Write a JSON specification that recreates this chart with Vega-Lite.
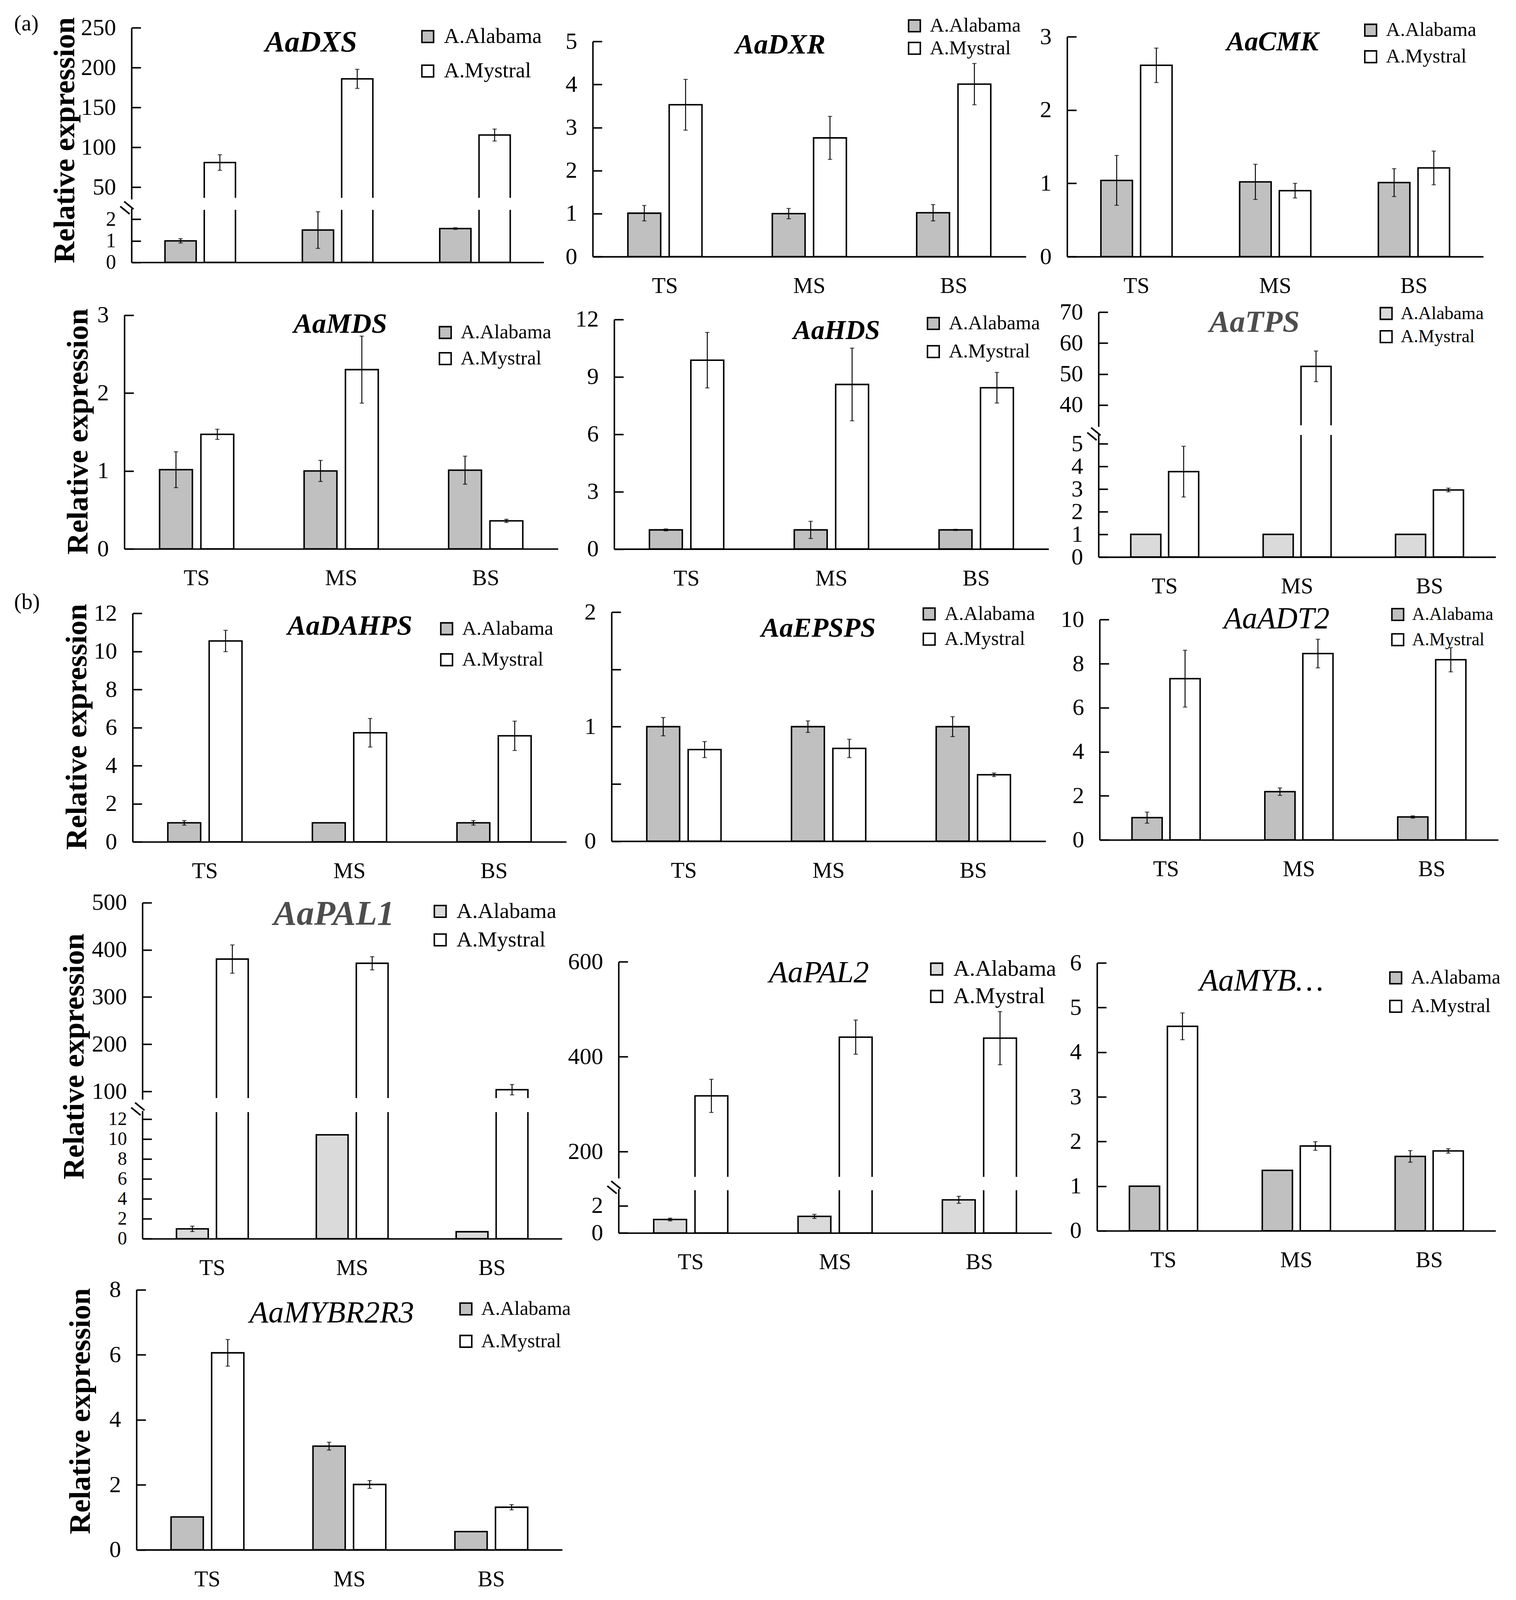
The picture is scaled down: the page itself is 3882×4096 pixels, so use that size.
{
"$schema": "https://vega.github.io/schema/vega-lite/v6.json",
"padding": 0,
"background": "white",
"datasets": {"expr": [
{"gene":"AaDXS","stage":"TS","cultivar":"A.Alabama","value":1.0,"err":0.1},
{"gene":"AaDXS","stage":"MS","cultivar":"A.Alabama","value":1.5,"err":0.85},
{"gene":"AaDXS","stage":"BS","cultivar":"A.Alabama","value":1.57,"err":0.04},
{"gene":"AaDXS","stage":"TS","cultivar":"A.Mystral","value":81,"err":9.8},
{"gene":"AaDXS","stage":"MS","cultivar":"A.Mystral","value":186,"err":12},
{"gene":"AaDXS","stage":"BS","cultivar":"A.Mystral","value":115.5,"err":7.5},
{"gene":"AaDXR","stage":"TS","cultivar":"A.Alabama","value":1.01,"err":0.18},
{"gene":"AaDXR","stage":"MS","cultivar":"A.Alabama","value":1.0,"err":0.12},
{"gene":"AaDXR","stage":"BS","cultivar":"A.Alabama","value":1.02,"err":0.19},
{"gene":"AaDXR","stage":"TS","cultivar":"A.Mystral","value":3.53,"err":0.59},
{"gene":"AaDXR","stage":"MS","cultivar":"A.Mystral","value":2.76,"err":0.5},
{"gene":"AaDXR","stage":"BS","cultivar":"A.Mystral","value":4.01,"err":0.48},
{"gene":"AaCMK","stage":"TS","cultivar":"A.Alabama","value":1.04,"err":0.34},
{"gene":"AaCMK","stage":"MS","cultivar":"A.Alabama","value":1.02,"err":0.24},
{"gene":"AaCMK","stage":"BS","cultivar":"A.Alabama","value":1.01,"err":0.19},
{"gene":"AaCMK","stage":"TS","cultivar":"A.Mystral","value":2.61,"err":0.235},
{"gene":"AaCMK","stage":"MS","cultivar":"A.Mystral","value":0.9,"err":0.1},
{"gene":"AaCMK","stage":"BS","cultivar":"A.Mystral","value":1.21,"err":0.23},
{"gene":"AaMDS","stage":"TS","cultivar":"A.Alabama","value":1.016,"err":0.23},
{"gene":"AaMDS","stage":"MS","cultivar":"A.Alabama","value":1.0,"err":0.135},
{"gene":"AaMDS","stage":"BS","cultivar":"A.Alabama","value":1.01,"err":0.18},
{"gene":"AaMDS","stage":"TS","cultivar":"A.Mystral","value":1.47,"err":0.065},
{"gene":"AaMDS","stage":"MS","cultivar":"A.Mystral","value":2.3,"err":0.43},
{"gene":"AaMDS","stage":"BS","cultivar":"A.Mystral","value":0.36,"err":0.02},
{"gene":"AaHDS","stage":"TS","cultivar":"A.Alabama","value":1.0,"err":0.05},
{"gene":"AaHDS","stage":"MS","cultivar":"A.Alabama","value":1.0,"err":0.45},
{"gene":"AaHDS","stage":"BS","cultivar":"A.Alabama","value":1.0,"err":0.03},
{"gene":"AaHDS","stage":"TS","cultivar":"A.Mystral","value":9.87,"err":1.45},
{"gene":"AaHDS","stage":"MS","cultivar":"A.Mystral","value":8.6,"err":1.9},
{"gene":"AaHDS","stage":"BS","cultivar":"A.Mystral","value":8.43,"err":0.8},
{"gene":"AaTPS","stage":"TS","cultivar":"A.Alabama","value":1.0,"err":0},
{"gene":"AaTPS","stage":"MS","cultivar":"A.Alabama","value":1.0,"err":0},
{"gene":"AaTPS","stage":"BS","cultivar":"A.Alabama","value":1.0,"err":0},
{"gene":"AaTPS","stage":"TS","cultivar":"A.Mystral","value":3.77,"err":1.12},
{"gene":"AaTPS","stage":"MS","cultivar":"A.Mystral","value":52.5,"err":4.95},
{"gene":"AaTPS","stage":"BS","cultivar":"A.Mystral","value":2.96,"err":0.08},
{"gene":"AaDAHPS","stage":"TS","cultivar":"A.Alabama","value":1.0,"err":0.12},
{"gene":"AaDAHPS","stage":"MS","cultivar":"A.Alabama","value":1.0,"err":0},
{"gene":"AaDAHPS","stage":"BS","cultivar":"A.Alabama","value":1.0,"err":0.12},
{"gene":"AaDAHPS","stage":"TS","cultivar":"A.Mystral","value":10.55,"err":0.56},
{"gene":"AaDAHPS","stage":"MS","cultivar":"A.Mystral","value":5.73,"err":0.75},
{"gene":"AaDAHPS","stage":"BS","cultivar":"A.Mystral","value":5.57,"err":0.77},
{"gene":"AaEPSPS","stage":"TS","cultivar":"A.Alabama","value":1.0,"err":0.08},
{"gene":"AaEPSPS","stage":"MS","cultivar":"A.Alabama","value":1.0,"err":0.05},
{"gene":"AaEPSPS","stage":"BS","cultivar":"A.Alabama","value":1.0,"err":0.087},
{"gene":"AaEPSPS","stage":"TS","cultivar":"A.Mystral","value":0.8,"err":0.07},
{"gene":"AaEPSPS","stage":"MS","cultivar":"A.Mystral","value":0.81,"err":0.08},
{"gene":"AaEPSPS","stage":"BS","cultivar":"A.Mystral","value":0.58,"err":0.015},
{"gene":"AaADT2","stage":"TS","cultivar":"A.Alabama","value":1.01,"err":0.25},
{"gene":"AaADT2","stage":"MS","cultivar":"A.Alabama","value":2.19,"err":0.17},
{"gene":"AaADT2","stage":"BS","cultivar":"A.Alabama","value":1.04,"err":0.05},
{"gene":"AaADT2","stage":"TS","cultivar":"A.Mystral","value":7.32,"err":1.29},
{"gene":"AaADT2","stage":"MS","cultivar":"A.Mystral","value":8.46,"err":0.65},
{"gene":"AaADT2","stage":"BS","cultivar":"A.Mystral","value":8.18,"err":0.55},
{"gene":"AaPAL1","stage":"TS","cultivar":"A.Alabama","value":0.99,"err":0.27},
{"gene":"AaPAL1","stage":"MS","cultivar":"A.Alabama","value":10.43,"err":0},
{"gene":"AaPAL1","stage":"BS","cultivar":"A.Alabama","value":0.7,"err":0},
{"gene":"AaPAL1","stage":"TS","cultivar":"A.Mystral","value":380.5,"err":30},
{"gene":"AaPAL1","stage":"MS","cultivar":"A.Mystral","value":371.6,"err":14},
{"gene":"AaPAL1","stage":"BS","cultivar":"A.Mystral","value":103.7,"err":11},
{"gene":"AaPAL2","stage":"TS","cultivar":"A.Alabama","value":0.99,"err":0.1},
{"gene":"AaPAL2","stage":"MS","cultivar":"A.Alabama","value":1.22,"err":0.15},
{"gene":"AaPAL2","stage":"BS","cultivar":"A.Alabama","value":2.44,"err":0.26},
{"gene":"AaPAL2","stage":"TS","cultivar":"A.Mystral","value":317.6,"err":35},
{"gene":"AaPAL2","stage":"MS","cultivar":"A.Mystral","value":441.4,"err":36},
{"gene":"AaPAL2","stage":"BS","cultivar":"A.Mystral","value":439.2,"err":56},
{"gene":"AaMYB","stage":"TS","cultivar":"A.Alabama","value":1.0,"err":0},
{"gene":"AaMYB","stage":"MS","cultivar":"A.Alabama","value":1.354,"err":0},
{"gene":"AaMYB","stage":"BS","cultivar":"A.Alabama","value":1.667,"err":0.13},
{"gene":"AaMYB","stage":"TS","cultivar":"A.Mystral","value":4.58,"err":0.3},
{"gene":"AaMYB","stage":"MS","cultivar":"A.Mystral","value":1.9,"err":0.095},
{"gene":"AaMYB","stage":"BS","cultivar":"A.Mystral","value":1.79,"err":0.05},
{"gene":"AaMYBR2R3","stage":"TS","cultivar":"A.Alabama","value":1.01,"err":0},
{"gene":"AaMYBR2R3","stage":"MS","cultivar":"A.Alabama","value":3.19,"err":0.12},
{"gene":"AaMYBR2R3","stage":"BS","cultivar":"A.Alabama","value":0.56,"err":0},
{"gene":"AaMYBR2R3","stage":"TS","cultivar":"A.Mystral","value":6.06,"err":0.41},
{"gene":"AaMYBR2R3","stage":"MS","cultivar":"A.Mystral","value":2.01,"err":0.12},
{"gene":"AaMYBR2R3","stage":"BS","cultivar":"A.Mystral","value":1.31,"err":0.08}
]},
"columns": 3,
"spacing": 0,
"bounds": "flush",
"align": "each",
"resolve": {"scale": {"fill": "independent", "xOffset": "independent"}, "legend": {"fill": "independent"}},
"concat": [
{
 "width": 1514, "height": 671.7,
 "data": {"name": "expr"},
 "transform": [{"filter": "datum.gene == 'AaDXS'"}],
 "resolve": {"scale": {"y": "independent"}, "axis": {"y": "independent"}},
 "layer": [
  {"layer": [
   {"mark": {"type": "bar", "stroke": "black", "strokeWidth": 3.8},
    "encoding": {
     "x": {"field": "stage", "type": "nominal", "scale": {"domain": ["TS","MS","BS"], "range": [336.8, 1392.2], "paddingInner": 0.487, "paddingOuter": 0.2435}, "axis": {"title": null, "labels": false}},
     "xOffset": {"field": "cultivar", "type": "nominal", "scale": {"domain": ["A.Alabama","A.Mystral"], "paddingInner": 0.206, "paddingOuter": 0}},
     "y": {"field": "value", "type": "quantitative", "title": ["–","–"], "scale": {"domain": [0, 2.5], "range": [671.7, 533.8], "clamp": true, "nice": false, "zero": false},
       "axis": {"orient": "left", "offset": -336.8, "values": [0,1,2], "labelFontSize": 52, "title": ["–","–"], "titleX": -4.7, "titleY": 521.9, "titleAngle": 39, "titleAlign": "center", "titleBaseline": "middle", "titleFontSize": 60, "titleFontWeight": "bold", "titleLineHeight": 16}},
     "fill": {"field": "cultivar", "type": "nominal", "scale": {"domain": ["A.Alabama","A.Mystral"], "range": ["#c0c0c0","#ffffff"]}, "legend": {"title": null, "direction": "vertical", "legendX": 1068, "legendY": 66.3, "labelFontSize": 54.7, "rowPadding": 32.3}}
    }},
   {"transform": [{"filter": "datum.err > 0 && datum.value < 20"}],
    "mark": {"type": "errorbar", "ticks": true, "size": 11, "thickness": 2.4, "color": "black"},
    "encoding": {"x": {"field": "stage", "type": "nominal"}, "xOffset": {"field": "cultivar", "type": "nominal"}, "y": {"field": "value", "type": "quantitative", "title": ["–","–"]}, "yError": {"field": "err"}}}
  ]},
  {"layer": [
   {"transform": [{"filter": "datum.value > 20"}],
    "mark": {"type": "bar", "stroke": "black", "strokeWidth": 3.8},
    "encoding": {
     "x": {"field": "stage", "type": "nominal"},
     "xOffset": {"field": "cultivar", "type": "nominal"},
     "y": {"field": "value", "type": "quantitative", "title": "Relative expression", "scale": {"domain": [35, 250], "range": [509.9, 71.4], "nice": false, "zero": false},
       "axis": {"orient": "left", "offset": -336.8, "values": [50,100,150,200,250], "title": "Relative expression", "titleX": -147.6, "titleY": 358.5, "titleAngle": -90, "titleAlign": "center", "titleBaseline": "alphabetic", "titleFontSize": 76.5, "titleFontWeight": "bold"}},
     "y2": {"datum": 35},
     "fill": {"field": "cultivar", "type": "nominal", "scale": {"domain": ["A.Alabama","A.Mystral"], "range": ["#c0c0c0","#ffffff"]}, "legend": {"title": null, "direction": "vertical", "legendX": 1068, "legendY": 66.3, "labelFontSize": 54.7, "rowPadding": 32.3}}
    }},
   {"transform": [{"filter": "datum.value > 20"}],
    "mark": {"type": "errorbar", "ticks": true, "size": 11, "thickness": 2.4, "color": "black"},
    "encoding": {"x": {"field": "stage", "type": "nominal"}, "xOffset": {"field": "cultivar", "type": "nominal"}, "y": {"field": "value", "type": "quantitative", "title": "Relative expression"}, "yError": {"field": "err"}}},
   {"transform": [{"filter": "datum.value > 20"}],
    "mark": {"type": "bar", "fill": "white", "stroke": "white", "strokeWidth": 7},
    "encoding": {"x": {"field": "stage", "type": "nominal"}, "xOffset": {"field": "cultivar", "type": "nominal"}, "y": {"datum": 35}, "y2": {"datum": 23.28}}},
   {"data": {"values": [{"gene": "AaDXS", "t": "AaDXS"}]},
    "mark": {"type": "text", "fontSize": 75.7, "fontStyle": "italic", "fontWeight": "bold", "align": "center", "baseline": "alphabetic", "dx": -68, "color": "black"},
    "encoding": {"x": {"datum": "MS"}, "y": {"datum": 220.1}, "text": {"field": "t"}}},
   {"data": {"values": [{"gene": "AaDXS", "t": "(a)"}]},
    "mark": {"type": "text", "fontSize": 56.8, "align": "left", "baseline": "alphabetic", "dx": -476.7, "color": "black"},
    "encoding": {"x": {"datum": "TS"}, "y": {"datum": 247.0}, "text": {"field": "t"}}}
  ]}
 ]
},
{
 "width": 1211, "height": 657.0,
 "data": {"name": "expr"},
 "transform": [{"filter": "datum.gene == 'AaDXR'"}],
 "layer": [
  {"mark": {"type": "bar", "stroke": "black", "strokeWidth": 3.8},
   "encoding": {
    "x": {"field": "stage", "type": "nominal", "scale": {"domain": ["TS","MS","BS"], "range": [3.8, 1113.1], "paddingInner": 0.487, "paddingOuter": 0.2435}, "axis": {"title": null}},
    "xOffset": {"field": "cultivar", "type": "nominal", "scale": {"domain": ["A.Alabama","A.Mystral"], "paddingInner": 0.206, "paddingOuter": 0}},
    "y": {"field": "value", "type": "quantitative", "scale": {"domain": [0, 5], "range": [657.0, 106.3], "nice": false, "zero": false}, "axis": {"orient": "left", "offset": -3.8, "values": [0,1,2,3,4,5], "title": null}},
    "fill": {"field": "cultivar", "type": "nominal", "scale": {"domain": ["A.Alabama","A.Mystral"], "range": ["#c0c0c0","#ffffff"]}, "legend": {"title": null, "direction": "vertical", "legendX": 802.2, "legendY": 40.8, "labelFontSize": 50.8, "rowPadding": 5.5}}
   }},
  {"transform": [{"filter": "datum.err > 0"}],
   "mark": {"type": "errorbar", "ticks": true, "size": 11, "thickness": 2.4, "color": "black"},
   "encoding": {"x": {"field": "stage", "type": "nominal"}, "xOffset": {"field": "cultivar", "type": "nominal"}, "y": {"field": "value", "type": "quantitative"}, "yError": {"field": "err"}}},
  {"data": {"values": [{"gene": "AaDXR", "t": "AaDXR"}]},
   "mark": {"type": "text", "fontSize": 71.6, "fontStyle": "italic", "fontWeight": "bold", "align": "center", "baseline": "alphabetic", "dx": -74, "color": "black"},
   "encoding": {"x": {"datum": "MS"}, "y": {"datum": 4.717}, "text": {"field": "t"}}}
 ]
},
{
 "width": 1135, "height": 657.0,
 "data": {"name": "expr"},
 "transform": [{"filter": "datum.gene == 'AaCMK'"}],
 "layer": [
  {"mark": {"type": "bar", "stroke": "black", "strokeWidth": 3.8},
   "encoding": {
    "x": {"field": "stage", "type": "nominal", "scale": {"domain": ["TS","MS","BS"], "range": [7.6, 1073.3], "paddingInner": 0.487, "paddingOuter": 0.2435}, "axis": {"title": null}},
    "xOffset": {"field": "cultivar", "type": "nominal", "scale": {"domain": ["A.Alabama","A.Mystral"], "paddingInner": 0.206, "paddingOuter": 0}},
    "y": {"field": "value", "type": "quantitative", "scale": {"domain": [0, 3], "range": [657.0, 94.0], "nice": false, "zero": false}, "axis": {"orient": "left", "offset": -7.6, "values": [0,1,2,3], "title": null}},
    "fill": {"field": "cultivar", "type": "nominal", "scale": {"domain": ["A.Alabama","A.Mystral"], "range": ["#c0c0c0","#ffffff"]}, "legend": {"title": null, "direction": "vertical", "legendX": 759.6, "legendY": 52, "labelFontSize": 50.5, "rowPadding": 17}}
   }},
  {"transform": [{"filter": "datum.err > 0"}],
   "mark": {"type": "errorbar", "ticks": true, "size": 11, "thickness": 2.4, "color": "black"},
   "encoding": {"x": {"field": "stage", "type": "nominal"}, "xOffset": {"field": "cultivar", "type": "nominal"}, "y": {"field": "value", "type": "quantitative"}, "yError": {"field": "err"}}},
  {"data": {"values": [{"gene": "AaCMK", "t": "AaCMK"}]},
   "mark": {"type": "text", "fontSize": 69.5, "fontStyle": "italic", "fontWeight": "bold", "align": "center", "baseline": "alphabetic", "dx": -7, "color": "black"},
   "encoding": {"x": {"datum": "MS"}, "y": {"datum": 2.815}, "text": {"field": "t"}}}
 ]
},
{
 "width": 1514, "height": 733.2,
 "data": {"name": "expr"},
 "transform": [{"filter": "datum.gene == 'AaMDS'"}],
 "layer": [
  {"mark": {"type": "bar", "stroke": "black", "strokeWidth": 3.8},
   "encoding": {
    "x": {"field": "stage", "type": "nominal", "scale": {"domain": ["TS","MS","BS"], "range": [318.5, 1428.8], "paddingInner": 0.487, "paddingOuter": 0.2435}, "axis": {"title": null}},
    "xOffset": {"field": "cultivar", "type": "nominal", "scale": {"domain": ["A.Alabama","A.Mystral"], "paddingInner": 0.206, "paddingOuter": 0}},
    "y": {"field": "value", "type": "quantitative", "title": "Relative expression", "scale": {"domain": [0, 3], "range": [733.2, 134.6], "nice": false, "zero": false}, "axis": {"orient": "left", "offset": -318.5, "values": [0,1,2,3], "title": "Relative expression", "titleX": -95.3, "titleY": 432.3, "titleAngle": -90, "titleAlign": "center", "titleBaseline": "alphabetic", "titleFontSize": 76.5, "titleFontWeight": "bold"}},
    "fill": {"field": "cultivar", "type": "nominal", "scale": {"domain": ["A.Alabama","A.Mystral"], "range": ["#c0c0c0","#ffffff"]}, "legend": {"title": null, "direction": "vertical", "legendX": 1114.9, "legendY": 153.9, "labelFontSize": 50.7, "rowPadding": 14.8}}
   }},
  {"transform": [{"filter": "datum.err > 0"}],
   "mark": {"type": "errorbar", "ticks": true, "size": 11, "thickness": 2.4, "color": "black"},
   "encoding": {"x": {"field": "stage", "type": "nominal"}, "xOffset": {"field": "cultivar", "type": "nominal"}, "y": {"field": "value", "type": "quantitative", "title": "Relative expression"}, "yError": {"field": "err"}}},
  {"data": {"values": [{"gene": "AaMDS", "t": "AaMDS"}]},
   "mark": {"type": "text", "fontSize": 71.9, "fontStyle": "italic", "fontWeight": "bold", "align": "center", "baseline": "alphabetic", "dx": -2.4, "color": "black"},
   "encoding": {"x": {"datum": "MS"}, "y": {"datum": 2.772}, "text": {"field": "t"}}}
 ]
},
{
 "width": 1211, "height": 733.5,
 "data": {"name": "expr"},
 "transform": [{"filter": "datum.gene == 'AaHDS'"}],
 "layer": [
  {"mark": {"type": "bar", "stroke": "black", "strokeWidth": 3.8},
   "encoding": {
    "x": {"field": "stage", "type": "nominal", "scale": {"domain": ["TS","MS","BS"], "range": [58.7, 1171.2], "paddingInner": 0.487, "paddingOuter": 0.2435}, "axis": {"title": null}},
    "xOffset": {"field": "cultivar", "type": "nominal", "scale": {"domain": ["A.Alabama","A.Mystral"], "paddingInner": 0.206, "paddingOuter": 0}},
    "y": {"field": "value", "type": "quantitative", "scale": {"domain": [0, 12], "range": [733.5, 145.7], "nice": false, "zero": false}, "axis": {"orient": "left", "offset": -58.7, "values": [0,3,6,9,12], "title": null}},
    "fill": {"field": "cultivar", "type": "nominal", "scale": {"domain": ["A.Alabama","A.Mystral"], "range": ["#c0c0c0","#ffffff"]}, "legend": {"title": null, "direction": "vertical", "legendX": 850.5, "legendY": 130.6, "labelFontSize": 51, "rowPadding": 20}}
   }},
  {"transform": [{"filter": "datum.err > 0"}],
   "mark": {"type": "errorbar", "ticks": true, "size": 11, "thickness": 2.4, "color": "black"},
   "encoding": {"x": {"field": "stage", "type": "nominal"}, "xOffset": {"field": "cultivar", "type": "nominal"}, "y": {"field": "value", "type": "quantitative"}, "yError": {"field": "err"}}},
  {"data": {"values": [{"gene": "AaHDS", "t": "AaHDS"}]},
   "mark": {"type": "text", "fontSize": 69, "fontStyle": "italic", "fontWeight": "bold", "align": "center", "baseline": "alphabetic", "dx": 13.2, "color": "black"},
   "encoding": {"x": {"datum": "MS"}, "y": {"datum": 10.98}, "text": {"field": "t"}}}
 ]
},
{
 "width": 1135, "height": 754.0,
 "data": {"name": "expr"},
 "transform": [{"filter": "datum.gene == 'AaTPS'"}],
 "resolve": {"scale": {"y": "independent"}, "axis": {"y": "independent"}},
 "layer": [
  {"layer": [
   {"mark": {"type": "bar", "stroke": "black", "strokeWidth": 3.8},
    "encoding": {
     "x": {"field": "stage", "type": "nominal", "scale": {"domain": ["TS","MS","BS"], "range": [88.0, 1105.0], "paddingInner": 0.487, "paddingOuter": 0.2435}, "axis": {"title": null}},
     "xOffset": {"field": "cultivar", "type": "nominal", "scale": {"domain": ["A.Alabama","A.Mystral"], "paddingInner": 0.206, "paddingOuter": 0}},
     "y": {"field": "value", "type": "quantitative", "title": ["–","–"], "scale": {"domain": [0, 5.45], "range": [754.0, 437.9], "clamp": true, "nice": false, "zero": false},
       "axis": {"orient": "left", "offset": -88.0, "values": [0,1,2,3,4,5], "title": ["–","–"], "titleX": -4.7, "titleY": 429, "titleAngle": 39, "titleAlign": "center", "titleBaseline": "middle", "titleFontSize": 60, "titleFontWeight": "bold", "titleLineHeight": 16}},
     "fill": {"field": "cultivar", "type": "nominal", "scale": {"domain": ["A.Alabama","A.Mystral"], "range": ["#dadada","#ffffff"]}, "legend": {"title": null, "direction": "vertical", "legendX": 801.3, "legendY": 107.3, "labelFontSize": 46.4, "rowPadding": 12.3}}
    }},
   {"transform": [{"filter": "datum.err > 0 && datum.value < 20"}],
    "mark": {"type": "errorbar", "ticks": true, "size": 11, "thickness": 2.4, "color": "black"},
    "encoding": {"x": {"field": "stage", "type": "nominal"}, "xOffset": {"field": "cultivar", "type": "nominal"}, "y": {"field": "value", "type": "quantitative", "title": ["–","–"]}, "yError": {"field": "err"}}}
  ]},
  {"layer": [
   {"transform": [{"filter": "datum.value > 20"}],
    "mark": {"type": "bar", "stroke": "black", "strokeWidth": 3.8},
    "encoding": {
     "x": {"field": "stage", "type": "nominal"},
     "xOffset": {"field": "cultivar", "type": "nominal"},
     "y": {"field": "value", "type": "quantitative", "scale": {"domain": [33, 70], "range": [420.2, 127.2], "nice": false, "zero": false},
       "axis": {"orient": "left", "offset": -88.0, "values": [40,50,60,70], "title": null}},
     "y2": {"datum": 33},
     "fill": {"field": "cultivar", "type": "nominal", "scale": {"domain": ["A.Alabama","A.Mystral"], "range": ["#dadada","#ffffff"]}, "legend": {"title": null, "direction": "vertical", "legendX": 801.3, "legendY": 107.3, "labelFontSize": 46.4, "rowPadding": 12.3}}
    }},
   {"transform": [{"filter": "datum.value > 20"}],
    "mark": {"type": "errorbar", "ticks": true, "size": 11, "thickness": 2.4, "color": "black"},
    "encoding": {"x": {"field": "stage", "type": "nominal"}, "xOffset": {"field": "cultivar", "type": "nominal"}, "y": {"field": "value", "type": "quantitative"}, "yError": {"field": "err"}}},
   {"transform": [{"filter": "datum.value > 20"}],
    "mark": {"type": "bar", "fill": "white", "stroke": "white", "strokeWidth": 7},
    "encoding": {"x": {"field": "stage", "type": "nominal"}, "xOffset": {"field": "cultivar", "type": "nominal"}, "y": {"datum": 33}, "y2": {"datum": 30.765}}},
   {"data": {"values": [{"gene": "AaTPS", "t": "AaTPS"}]},
    "mark": {"type": "text", "fontSize": 78.5, "fontStyle": "italic", "fontWeight": "bold", "align": "center", "baseline": "alphabetic", "dx": -109.3, "color": "#4d4d4d"},
    "encoding": {"x": {"datum": "MS"}, "y": {"datum": 63.75}, "text": {"field": "t"}}}
  ]}
 ]
},
{
 "width": 1514, "height": 729.2,
 "data": {"name": "expr"},
 "transform": [{"filter": "datum.gene == 'AaDAHPS'"}],
 "layer": [
  {"mark": {"type": "bar", "stroke": "black", "strokeWidth": 3.8},
   "encoding": {
    "x": {"field": "stage", "type": "nominal", "scale": {"domain": ["TS","MS","BS"], "range": [339.6, 1450.2], "paddingInner": 0.487, "paddingOuter": 0.2435}, "axis": {"title": null}},
    "xOffset": {"field": "cultivar", "type": "nominal", "scale": {"domain": ["A.Alabama","A.Mystral"], "paddingInner": 0.206, "paddingOuter": 0}},
    "y": {"field": "value", "type": "quantitative", "title": "Relative expression", "scale": {"domain": [0, 12], "range": [729.2, 144.2], "nice": false, "zero": false}, "axis": {"orient": "left", "offset": -339.6, "values": [0,2,4,6,8,10,12], "title": "Relative expression", "titleX": -118.7, "titleY": 434.2, "titleAngle": -90, "titleAlign": "center", "titleBaseline": "alphabetic", "titleFontSize": 76.5, "titleFontWeight": "bold"}},
    "fill": {"field": "cultivar", "type": "nominal", "scale": {"domain": ["A.Alabama","A.Mystral"], "range": ["#c0c0c0","#ffffff"]}, "legend": {"title": null, "direction": "vertical", "legendX": 1118.2, "legendY": 158, "labelFontSize": 51, "rowPadding": 27.5}}
   }},
  {"transform": [{"filter": "datum.err > 0"}],
   "mark": {"type": "errorbar", "ticks": true, "size": 11, "thickness": 2.4, "color": "black"},
   "encoding": {"x": {"field": "stage", "type": "nominal"}, "xOffset": {"field": "cultivar", "type": "nominal"}, "y": {"field": "value", "type": "quantitative", "title": "Relative expression"}, "yError": {"field": "err"}}},
  {"data": {"values": [{"gene": "AaDAHPS", "t": "AaDAHPS"}]},
   "mark": {"type": "text", "fontSize": 71, "fontStyle": "italic", "fontWeight": "bold", "align": "center", "baseline": "alphabetic", "dx": 1, "color": "black"},
   "encoding": {"x": {"datum": "MS"}, "y": {"datum": 10.88}, "text": {"field": "t"}}},
  {"data": {"values": [{"gene": "AaDAHPS", "t": "(b)"}]},
   "mark": {"type": "text", "fontSize": 56.8, "align": "left", "baseline": "alphabetic", "dx": -488.7, "color": "black"},
   "encoding": {"x": {"datum": "TS"}, "y": {"datum": 12.22}, "text": {"field": "t"}}}
 ]
},
{
 "width": 1211, "height": 727.5,
 "data": {"name": "expr"},
 "transform": [{"filter": "datum.gene == 'AaEPSPS'"}],
 "layer": [
  {"mark": {"type": "bar", "stroke": "black", "strokeWidth": 3.8},
   "encoding": {
    "x": {"field": "stage", "type": "nominal", "scale": {"domain": ["TS","MS","BS"], "range": [52.0, 1163.6], "paddingInner": 0.487, "paddingOuter": 0.2435}, "axis": {"title": null}},
    "xOffset": {"field": "cultivar", "type": "nominal", "scale": {"domain": ["A.Alabama","A.Mystral"], "paddingInner": 0.206, "paddingOuter": 0}},
    "y": {"field": "value", "type": "quantitative", "scale": {"domain": [0, 2], "range": [727.5, 141.0], "nice": false, "zero": false}, "axis": {"orient": "left", "offset": -52.0, "values": [0,0.5,1,1.5,2], "labelExpr": "datum.value % 1 == 0 ? datum.label : ''", "title": null}},
    "fill": {"field": "cultivar", "type": "nominal", "scale": {"domain": ["A.Alabama","A.Mystral"], "range": ["#c0c0c0","#ffffff"]}, "legend": {"title": null, "direction": "vertical", "legendX": 840, "legendY": 120.4, "labelFontSize": 50.6, "rowPadding": 13.7}}
   }},
  {"transform": [{"filter": "datum.err > 0"}],
   "mark": {"type": "errorbar", "ticks": true, "size": 11, "thickness": 2.4, "color": "black"},
   "encoding": {"x": {"field": "stage", "type": "nominal"}, "xOffset": {"field": "cultivar", "type": "nominal"}, "y": {"field": "value", "type": "quantitative"}, "yError": {"field": "err"}}},
  {"data": {"values": [{"gene": "AaEPSPS", "t": "AaEPSPS"}]},
   "mark": {"type": "text", "fontSize": 70.4, "fontStyle": "italic", "fontWeight": "bold", "align": "center", "baseline": "alphabetic", "dx": -26, "color": "black"},
   "encoding": {"x": {"datum": "MS"}, "y": {"datum": 1.786}, "text": {"field": "t"}}}
 ]
},
{
 "width": 1135, "height": 724.1,
 "data": {"name": "expr"},
 "transform": [{"filter": "datum.gene == 'AaADT2'"}],
 "layer": [
  {"mark": {"type": "bar", "stroke": "black", "strokeWidth": 3.8},
   "encoding": {
    "x": {"field": "stage", "type": "nominal", "scale": {"domain": ["TS","MS","BS"], "range": [90.8, 1111.5], "paddingInner": 0.487, "paddingOuter": 0.2435}, "axis": {"title": null}},
    "xOffset": {"field": "cultivar", "type": "nominal", "scale": {"domain": ["A.Alabama","A.Mystral"], "paddingInner": 0.206, "paddingOuter": 0}},
    "y": {"field": "value", "type": "quantitative", "scale": {"domain": [0, 10], "range": [724.1, 160.3], "nice": false, "zero": false}, "axis": {"orient": "left", "offset": -90.8, "values": [0,2,4,6,8,10], "title": null}},
    "fill": {"field": "cultivar", "type": "nominal", "scale": {"domain": ["A.Alabama","A.Mystral"], "range": ["#c0c0c0","#ffffff"]}, "legend": {"title": null, "direction": "vertical", "legendX": 831.5, "legendY": 124.5, "labelFontSize": 45.4, "rowPadding": 17.4}}
   }},
  {"transform": [{"filter": "datum.err > 0"}],
   "mark": {"type": "errorbar", "ticks": true, "size": 11, "thickness": 2.4, "color": "black"},
   "encoding": {"x": {"field": "stage", "type": "nominal"}, "xOffset": {"field": "cultivar", "type": "nominal"}, "y": {"field": "value", "type": "quantitative"}, "yError": {"field": "err"}}},
  {"data": {"values": [{"gene": "AaADT2", "t": "AaADT2"}]},
   "mark": {"type": "text", "fontSize": 77.4, "fontStyle": "italic", "align": "center", "baseline": "alphabetic", "dx": -57.2, "color": "black"},
   "encoding": {"x": {"datum": "MS"}, "y": {"datum": 9.613}, "text": {"field": "t"}}}
 ]
},
{
 "width": 1514, "height": 1015.1,
 "data": {"name": "expr"},
 "transform": [{"filter": "datum.gene == 'AaPAL1'"}],
 "resolve": {"scale": {"y": "independent"}, "axis": {"y": "independent"}},
 "layer": [
  {"layer": [
   {"mark": {"type": "bar", "stroke": "black", "strokeWidth": 3.8},
    "encoding": {
     "x": {"field": "stage", "type": "nominal", "scale": {"domain": ["TS","MS","BS"], "range": [364.7, 1439.0], "paddingInner": 0.487, "paddingOuter": 0.2435}, "axis": {"title": null}},
     "xOffset": {"field": "cultivar", "type": "nominal", "scale": {"domain": ["A.Alabama","A.Mystral"], "paddingInner": 0.206, "paddingOuter": 0}},
     "y": {"field": "value", "type": "quantitative", "title": ["–","–"], "scale": {"domain": [0, 12.85], "range": [1015.1, 687.5], "clamp": true, "nice": false, "zero": false},
       "axis": {"orient": "left", "offset": -364.7, "values": [0,2,4,6,8,10,12], "labelFontSize": 48, "title": ["–","–"], "titleX": -4.7, "titleY": 673, "titleAngle": 39, "titleAlign": "center", "titleBaseline": "middle", "titleFontSize": 60, "titleFontWeight": "bold", "titleLineHeight": 16}},
     "fill": {"field": "cultivar", "type": "nominal", "scale": {"domain": ["A.Alabama","A.Mystral"], "range": ["#dadada","#ffffff"]}, "legend": {"title": null, "direction": "vertical", "legendX": 1099.3, "legendY": 149.2, "labelFontSize": 55.8, "rowPadding": 16.1}}
    }},
   {"transform": [{"filter": "datum.err > 0 && datum.value < 50"}],
    "mark": {"type": "errorbar", "ticks": true, "size": 11, "thickness": 2.4, "color": "black"},
    "encoding": {"x": {"field": "stage", "type": "nominal"}, "xOffset": {"field": "cultivar", "type": "nominal"}, "y": {"field": "value", "type": "quantitative", "title": ["–","–"]}, "yError": {"field": "err"}}}
  ]},
  {"layer": [
   {"transform": [{"filter": "datum.value > 50"}],
    "mark": {"type": "bar", "stroke": "black", "strokeWidth": 3.8},
    "encoding": {
     "x": {"field": "stage", "type": "nominal"},
     "xOffset": {"field": "cultivar", "type": "nominal"},
     "y": {"field": "value", "type": "quantitative", "title": "Relative expression", "scale": {"domain": [83, 500], "range": [658.6, 154.9], "nice": false, "zero": false},
       "axis": {"orient": "left", "offset": -364.7, "values": [100,200,300,400,500], "title": "Relative expression", "titleX": -150.9, "titleY": 547.9, "titleAngle": -90, "titleAlign": "center", "titleBaseline": "alphabetic", "titleFontSize": 76.5, "titleFontWeight": "bold"}},
     "y2": {"datum": 83},
     "fill": {"field": "cultivar", "type": "nominal", "scale": {"domain": ["A.Alabama","A.Mystral"], "range": ["#dadada","#ffffff"]}, "legend": {"title": null, "direction": "vertical", "legendX": 1099.3, "legendY": 149.2, "labelFontSize": 55.8, "rowPadding": 16.1}}
    }},
   {"transform": [{"filter": "datum.value > 50"}],
    "mark": {"type": "errorbar", "ticks": true, "size": 11, "thickness": 2.4, "color": "black"},
    "encoding": {"x": {"field": "stage", "type": "nominal"}, "xOffset": {"field": "cultivar", "type": "nominal"}, "y": {"field": "value", "type": "quantitative", "title": "Relative expression"}, "yError": {"field": "err"}}},
   {"transform": [{"filter": "datum.value > 50"}],
    "mark": {"type": "bar", "fill": "white", "stroke": "white", "strokeWidth": 7},
    "encoding": {"x": {"field": "stage", "type": "nominal"}, "xOffset": {"field": "cultivar", "type": "nominal"}, "y": {"datum": 83}, "y2": {"datum": 59.07}}},
   {"data": {"values": [{"gene": "AaPAL1", "t": "AaPAL1"}]},
    "mark": {"type": "text", "fontSize": 88.9, "fontStyle": "italic", "fontWeight": "bold", "align": "center", "baseline": "alphabetic", "dx": -46.7, "color": "#4d4d4d"},
    "encoding": {"x": {"datum": "MS"}, "y": {"datum": 453.9}, "text": {"field": "t"}}}
  ]}
 ]
},
{
 "width": 1211, "height": 1000.3,
 "data": {"name": "expr"},
 "transform": [{"filter": "datum.gene == 'AaPAL2'"}],
 "resolve": {"scale": {"y": "independent"}, "axis": {"y": "independent"}},
 "layer": [
  {"layer": [
   {"mark": {"type": "bar", "stroke": "black", "strokeWidth": 3.8},
    "encoding": {
     "x": {"field": "stage", "type": "nominal", "scale": {"domain": ["TS","MS","BS"], "range": [70.0, 1178.7], "paddingInner": 0.487, "paddingOuter": 0.2435}, "axis": {"title": null}},
     "xOffset": {"field": "cultivar", "type": "nominal", "scale": {"domain": ["A.Alabama","A.Mystral"], "paddingInner": 0.206, "paddingOuter": 0}},
     "y": {"field": "value", "type": "quantitative", "title": ["–","–"], "scale": {"domain": [0, 3.25], "range": [1000.3, 887.4], "clamp": true, "nice": false, "zero": false},
       "axis": {"orient": "left", "offset": -70.0, "values": [0,2], "title": ["–","–"], "titleX": -4.7, "titleY": 873.8, "titleAngle": 39, "titleAlign": "center", "titleBaseline": "middle", "titleFontSize": 60, "titleFontWeight": "bold", "titleLineHeight": 16}},
     "fill": {"field": "cultivar", "type": "nominal", "scale": {"domain": ["A.Alabama","A.Mystral"], "range": ["#dadada","#ffffff"]}, "legend": {"title": null, "direction": "vertical", "legendX": 855.7, "legendY": 296, "labelFontSize": 57.5, "rowPadding": 11}}
    }},
   {"transform": [{"filter": "datum.err > 0 && datum.value < 50"}],
    "mark": {"type": "errorbar", "ticks": true, "size": 11, "thickness": 2.4, "color": "black"},
    "encoding": {"x": {"field": "stage", "type": "nominal"}, "xOffset": {"field": "cultivar", "type": "nominal"}, "y": {"field": "value", "type": "quantitative", "title": ["–","–"]}, "yError": {"field": "err"}}}
  ]},
  {"layer": [
   {"transform": [{"filter": "datum.value > 50"}],
    "mark": {"type": "bar", "stroke": "black", "strokeWidth": 3.8},
    "encoding": {
     "x": {"field": "stage", "type": "nominal"},
     "xOffset": {"field": "cultivar", "type": "nominal"},
     "y": {"field": "value", "type": "quantitative", "scale": {"domain": [144, 600], "range": [860.3, 306.4], "nice": false, "zero": false},
       "axis": {"orient": "left", "offset": -70.0, "values": [200,400,600], "title": null}},
     "y2": {"datum": 144},
     "fill": {"field": "cultivar", "type": "nominal", "scale": {"domain": ["A.Alabama","A.Mystral"], "range": ["#dadada","#ffffff"]}, "legend": {"title": null, "direction": "vertical", "legendX": 855.7, "legendY": 296, "labelFontSize": 57.5, "rowPadding": 11}}
    }},
   {"transform": [{"filter": "datum.value > 50"}],
    "mark": {"type": "errorbar", "ticks": true, "size": 11, "thickness": 2.4, "color": "black"},
    "encoding": {"x": {"field": "stage", "type": "nominal"}, "xOffset": {"field": "cultivar", "type": "nominal"}, "y": {"field": "value", "type": "quantitative"}, "yError": {"field": "err"}}},
   {"transform": [{"filter": "datum.value > 50"}],
    "mark": {"type": "bar", "fill": "white", "stroke": "white", "strokeWidth": 7},
    "encoding": {"x": {"field": "stage", "type": "nominal"}, "xOffset": {"field": "cultivar", "type": "nominal"}, "y": {"datum": 144}, "y2": {"datum": 121.69}}},
   {"data": {"values": [{"gene": "AaPAL2", "t": "AaPAL2"}]},
    "mark": {"type": "text", "fontSize": 78.5, "fontStyle": "italic", "align": "center", "baseline": "alphabetic", "dx": -41.2, "color": "black"},
    "encoding": {"x": {"datum": "MS"}, "y": {"datum": 557.5}, "text": {"field": "t"}}}
  ]}
 ]
},
{
 "width": 1135, "height": 994.9,
 "data": {"name": "expr"},
 "transform": [{"filter": "datum.gene == 'AaMYB'"}],
 "layer": [
  {"mark": {"type": "bar", "stroke": "black", "strokeWidth": 3.8},
   "encoding": {
    "x": {"field": "stage", "type": "nominal", "scale": {"domain": ["TS","MS","BS"], "range": [84.2, 1104.9], "paddingInner": 0.487, "paddingOuter": 0.2435}, "axis": {"title": null}},
    "xOffset": {"field": "cultivar", "type": "nominal", "scale": {"domain": ["A.Alabama","A.Mystral"], "paddingInner": 0.206, "paddingOuter": 0}},
    "y": {"field": "value", "type": "quantitative", "scale": {"domain": [0, 6], "range": [994.9, 309.1], "nice": false, "zero": false}, "axis": {"orient": "left", "offset": -84.2, "values": [0,1,2,3,4,5,6], "title": null}},
    "fill": {"field": "cultivar", "type": "nominal", "scale": {"domain": ["A.Alabama","A.Mystral"], "range": ["#c0c0c0","#ffffff"]}, "legend": {"title": null, "direction": "vertical", "legendX": 824, "legendY": 322.4, "labelFontSize": 50, "rowPadding": 22.8}}
   }},
  {"transform": [{"filter": "datum.err > 0"}],
   "mark": {"type": "errorbar", "ticks": true, "size": 11, "thickness": 2.4, "color": "black"},
   "encoding": {"x": {"field": "stage", "type": "nominal"}, "xOffset": {"field": "cultivar", "type": "nominal"}, "y": {"field": "value", "type": "quantitative"}, "yError": {"field": "err"}}},
  {"data": {"values": [{"gene": "AaMYB", "t": "AaMYB…"}]},
   "mark": {"type": "text", "fontSize": 79.5, "fontStyle": "italic", "align": "center", "baseline": "alphabetic", "dx": -89.4, "color": "black"},
   "encoding": {"x": {"datum": "MS"}, "y": {"datum": 5.384}, "text": {"field": "t"}}}
 ]
},
{
 "width": 1514, "height": 795.5,
 "data": {"name": "expr"},
 "transform": [{"filter": "datum.gene == 'AaMYBR2R3'"}],
 "layer": [
  {"mark": {"type": "bar", "stroke": "black", "strokeWidth": 3.8},
   "encoding": {
    "x": {"field": "stage", "type": "nominal", "scale": {"domain": ["TS","MS","BS"], "range": [349.5, 1439.8], "paddingInner": 0.487, "paddingOuter": 0.2435}, "axis": {"title": null}},
    "xOffset": {"field": "cultivar", "type": "nominal", "scale": {"domain": ["A.Alabama","A.Mystral"], "paddingInner": 0.206, "paddingOuter": 0}},
    "y": {"field": "value", "type": "quantitative", "title": "Relative expression", "scale": {"domain": [0, 8], "range": [795.5, 129.8], "nice": false, "zero": false}, "axis": {"orient": "left", "offset": -349.5, "values": [0,2,4,6,8], "title": "Relative expression", "titleX": -119.6, "titleY": 440.1, "titleAngle": -90, "titleAlign": "center", "titleBaseline": "alphabetic", "titleFontSize": 76.5, "titleFontWeight": "bold"}},
    "fill": {"field": "cultivar", "type": "nominal", "scale": {"domain": ["A.Alabama","A.Mystral"], "range": ["#c0c0c0","#ffffff"]}, "legend": {"title": null, "direction": "vertical", "legendX": 1168, "legendY": 153.9, "labelFontSize": 50.1, "rowPadding": 31.8}}
   }},
  {"transform": [{"filter": "datum.err > 0"}],
   "mark": {"type": "errorbar", "ticks": true, "size": 11, "thickness": 2.4, "color": "black"},
   "encoding": {"x": {"field": "stage", "type": "nominal"}, "xOffset": {"field": "cultivar", "type": "nominal"}, "y": {"field": "value", "type": "quantitative", "title": "Relative expression"}, "yError": {"field": "err"}}},
  {"data": {"values": [{"gene": "AaMYBR2R3", "t": "AaMYBR2R3"}]},
   "mark": {"type": "text", "fontSize": 79, "fontStyle": "italic", "align": "center", "baseline": "alphabetic", "dx": -45.1, "color": "black"},
   "encoding": {"x": {"datum": "MS"}, "y": {"datum": 7.0}, "text": {"field": "t"}}}
 ]
}
],
"config": {
 "view": {"stroke": null},
 "font": "Liberation Serif",
 "text": {"font": "Liberation Serif"},
 "axis": {"grid": false, "domainColor": "black", "tickColor": "black", "labelColor": "black", "titleColor": "black", "labelFont": "Liberation Serif", "titleFont": "Liberation Serif", "labelOverlap": false, "labelFlush": false},
 "axisY": {"tickSize": -23.7, "tickWidth": 3.8, "domainWidth": 3.8, "labelPadding": 63.7, "labelFontSize": 60, "format": "d"},
 "axisX": {"ticks": false, "domainWidth": 3.8, "labelFontSize": 57, "labelPadding": 47.6, "labelAngle": 0},
 "legend": {"orient": "none", "symbolType": "square", "symbolSize": 900, "symbolStrokeColor": "black", "symbolStrokeWidth": 3.8, "labelFont": "Liberation Serif", "labelColor": "black", "labelOffset": 14, "labelLimit": 1000, "padding": 0, "symbolOpacity": 1}
}
}
